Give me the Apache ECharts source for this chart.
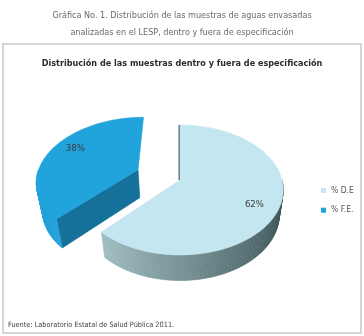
<!DOCTYPE html>
<html><head><meta charset="utf-8">
<script src="https://cdn.jsdelivr.net/npm/echarts@6/dist/echarts.min.js"></script>
<style>html,body{margin:0;padding:0;background:#fff}#c{width:364px;height:336px}</style>
</head><body><div id="c"></div>
<script>
// ---- data ----
const categories = ['% D.E', '% F.E.'];
const values = [62, 38];
const labels = ['62%', '38%'];
const titleLines = ['Gráfica No. 1. Distribución de las muestras de aguas envasadas',
                    'analizadas en el LESP, dentro y fuera de especificación'];
const innerTitle = 'Distribución de las muestras dentro y fuera de especificación';
const sourceText = 'Fuente: Laboratorio Estatal de Salud Pública 2011.';

// ---- style / view ----
const topColors = ['#c4e6f0', '#21a3dc'];
const cutColors = ['#6d8588', '#15709a'];
const explode = [0, 0.454];
const thickness = [0.32, 0.37];
const labelPos = [[118, 0.78], [298, 0.78]]; // [angle deg, radius]
const V = {cx: 180, cy: 180, f: 519, D: 5.09, s: 0.622, c: 0.783};
const FONT = '"Liberation Sans Narrow","DejaVu Sans Condensed","Open Sans",sans-serif';

const total = values.reduce((a, b) => a + b, 0);
const starts = []; let acc = 0;
values.forEach(v => { starts.push(acc); acc += v; });

function proj(X, Y, Z) {
  const yp = Y * V.c - Z * V.s;
  const dep = V.D - Z * V.c - Y * V.s;
  return [V.cx + V.f * X / dep, V.cy - V.f * yp / dep];
}
const viewDir = [0, V.s, V.c];
function visible(n) {
  return n[0] * viewDir[0] + n[1] * viewDir[1] + n[2] * viewDir[2] > 1e-6;
}
function mix(a, b, t) {
  const pa = [1,3,5].map(i => parseInt(a.substr(i, 2), 16));
  const pb = [1,3,5].map(i => parseInt(b.substr(i, 2), 16));
  return 'rgb(' + pa.map((v, i) => Math.round(v + (pb[i] - v) * t)).join(',') + ')';
}
function wallColor(idx, th) {
  const x = Math.sin(th); // -1 .. 1
  if (idx === 0) return mix('#b2d0d4', '#3d5558', (x + 1) / 2);
  return mix('#22a2dc', '#1a8fc4', (x + 1) / 2);
}

function renderSlice(params, api) {
  const idx = params.seriesIndex;
  const start = api.value(0), val = api.value(1);
  const a1 = start / total * 2 * Math.PI, a2 = (start + val) / total * 2 * Math.PI;
  const mid = (a1 + a2) / 2, e = explode[idx];
  const ox = Math.sin(mid) * e, oz = -Math.cos(mid) * e;
  const P = (th, r, Y) => [ox + Math.sin(th) * r, Y, oz - Math.cos(th) * r];
  const h = -thickness[idx];
  const children = [];
  const poly = (pts3, fill) => children.push({
    type: 'polygon',
    shape: {points: pts3.map(p => proj(p[0], p[1], p[2]))},
    style: {fill: fill, stroke: fill, lineWidth: 0.6}
  });
  // cut faces
  [[a1, a1 - Math.PI / 2], [a2, a2 + Math.PI / 2]].forEach(([th, nth]) => {
    const n = [Math.sin(nth), 0, -Math.cos(nth)];
    if (visible(n)) poly([P(th, 0, 0), P(th, 1, 0), P(th, 1, h), P(th, 0, h)], cutColors[idx]);
  });
  // outer wall
  const steps = Math.max(8, Math.round((a2 - a1) / (Math.PI / 180)));
  for (let i = 0; i < steps; i++) {
    const t1 = a1 + (a2 - a1) * i / steps, t2 = a1 + (a2 - a1) * (i + 1) / steps;
    const tm = (t1 + t2) / 2;
    if (!visible([Math.sin(tm), 0, -Math.cos(tm)])) continue;
    poly([P(t1, 1, 0), P(t2, 1, 0), P(t2, 1, h), P(t1, 1, h)], wallColor(idx, tm));
  }
  // top face
  const top = [P(a1, 0, 0)];
  for (let i = 0; i <= steps; i++) top.push(P(a1 + (a2 - a1) * i / steps, 1, 0));
  poly(top, topColors[idx]);
  if (idx === 0) {
    const p0 = proj(...P(a1, 0, 0)), p1 = proj(...P(a1, 1, 0));
    children.push({type: 'line', shape: {x1: p0[0] - 0.8, y1: p0[1], x2: p1[0] - 0.8, y2: p1[1]},
      style: {stroke: cutColors[0], lineWidth: 1.6}});
  }
  // label
  const lp = labelPos[idx];
  const q = proj(...P(lp[0] * Math.PI / 180, lp[1], 0));
  children.push({type: 'text', x: q[0], y: q[1],
    style: {text: labels[idx], fill: '#3a3a3a', font: '9.5px ' + FONT, align: 'center', verticalAlign: 'middle'}});
  return {type: 'group', children: children};
}

const chart = echarts.init(document.getElementById('c'), null, {renderer: 'canvas'});
chart.setOption({
  animation: false,
  backgroundColor: '#fff',
  title: [
    {text: titleLines.join('\n'), left: 'center', top: 2,
     textStyle: {fontFamily: FONT, fontSize: 9, fontWeight: 'normal', color: '#6a6a6a', lineHeight: 17}},
    {text: innerTitle, left: 'center', top: 54,
     textStyle: {fontFamily: FONT, fontSize: 9, fontWeight: 'bold', color: '#2b2b2b'}},
    {text: sourceText, left: 3, top: 317,
     textStyle: {fontFamily: FONT, fontSize: 7.3, fontWeight: 'normal', color: '#444'}}
  ],
  graphic: [{type: 'rect', shape: {x: 3, y: 44, width: 358, height: 289},
    style: {fill: 'none', stroke: '#c8c8c8', lineWidth: 1.5}, silent: true}],
  legend: {orient: 'vertical', left: 316, top: 181, itemWidth: 5, itemHeight: 5, itemGap: 10.7,
    icon: 'rect', data: categories, itemStyle: {borderWidth: 0},
    textStyle: {fontFamily: FONT, fontSize: 8.5, color: '#555'}},
  series: categories.map((name, i) => ({
    type: 'custom', name: name, coordinateSystem: 'none',
    itemStyle: {color: topColors[i]},
    z: i === 1 ? 1 : 2,
    renderItem: renderSlice,
    data: [[starts[i], values[i]]]
  }))
});
</script></body></html>
